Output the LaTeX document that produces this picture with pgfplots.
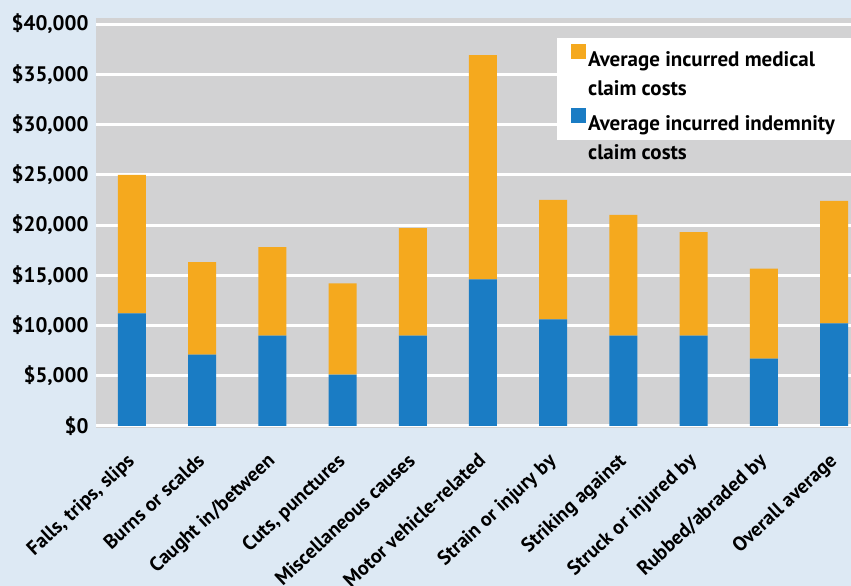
\documentclass[border=0pt]{standalone}
\usepackage{fontspec}
\setmainfont{PT Sans}
\usepackage{pgfplots}
\pgfplotsset{compat=1.18}
\definecolor{bgblue}{HTML}{DDE9F4}
\definecolor{plotgray}{HTML}{D2D2D3}
\definecolor{barblue}{HTML}{1A7CC4}
\definecolor{barorange}{HTML}{F5A91E}
\begin{document}
\begin{tikzpicture}
\fill[bgblue] (-96pt,-158pt) rectangle (755pt,428pt);
\useasboundingbox (-96pt,-158pt) rectangle (755pt,428pt);
\begin{axis}[
  name=ax,
  at={(0,0)}, anchor=south west,
  scale only axis,
  width=755pt, height=410pt,
  ybar stacked,
  bar width=28pt,
  xmin=-0.51, xmax=10.24,
  ymin=-200, ymax=40600,
  scaled y ticks=false,
  axis background/.style={fill=plotgray},
  axis line style={draw=none},
  major tick length=0pt,
  ymajorgrids,
  grid style={white, line width=3pt},
  ytick={0,5000,10000,15000,20000,25000,30000,35000,40000},
  yticklabels={\$0,\$5{,}000,\$10{,}000,\$15{,}000,\$20{,}000,\$25{,}000,\$30{,}000,\$35{,}000,\$40{,}000},
  yticklabel style={font=\fontsize{21}{23}\selectfont\bfseries, xshift=-4pt},
  xtick={0,...,10},
  xticklabels={{Falls, trips, slips},{Burns or scalds},{Caught in/between},{Cuts, punctures},{Miscellaneous causes},{Motor vehicle-related},{Strain or injury by},{Striking against},{Struck or injured by},{Rubbed/abraded by},{Overall average}},
  xticklabel style={font=\fontsize{20}{22}\selectfont\bfseries, xshift=-6pt, yshift=-19pt, rotate=43, anchor=north east},
  reverse legend,
  legend style={at={(rel axis cs:1,1)}, anchor=north east, yshift=-20pt,
    draw=none, fill=white, font=\fontsize{21}{26}\selectfont\bfseries,
    row sep=38pt, inner xsep=14pt, inner ysep=6pt},
  legend image code/.code={\fill[#1,draw=none] (0pt,-1pt) rectangle (15pt,14pt);},
  legend cell align=left,
]
\addplot[fill=barblue, draw=none] coordinates {
(0,11200) (1,7100) (2,9000) (3,5100) (4,9000) (5,14600) (6,10600) (7,9000) (8,9000) (9,6700) (10,10200)};
\addlegendentry{\begin{tabular}[t]{@{}l@{}}Average incurred indemnity\\[3pt]claim costs\end{tabular}\hspace{14pt}}
\addplot[fill=barorange, draw=none] coordinates {
(0,13800) (1,9200) (2,8800) (3,9100) (4,10700) (5,22300) (6,11900) (7,12000) (8,10300) (9,8950) (10,12200)};
\addlegendentry{\begin{tabular}[t]{@{}l@{}}Average incurred medical\\[3pt]claim costs\end{tabular}}
\end{axis}
\end{tikzpicture}
\end{document}
